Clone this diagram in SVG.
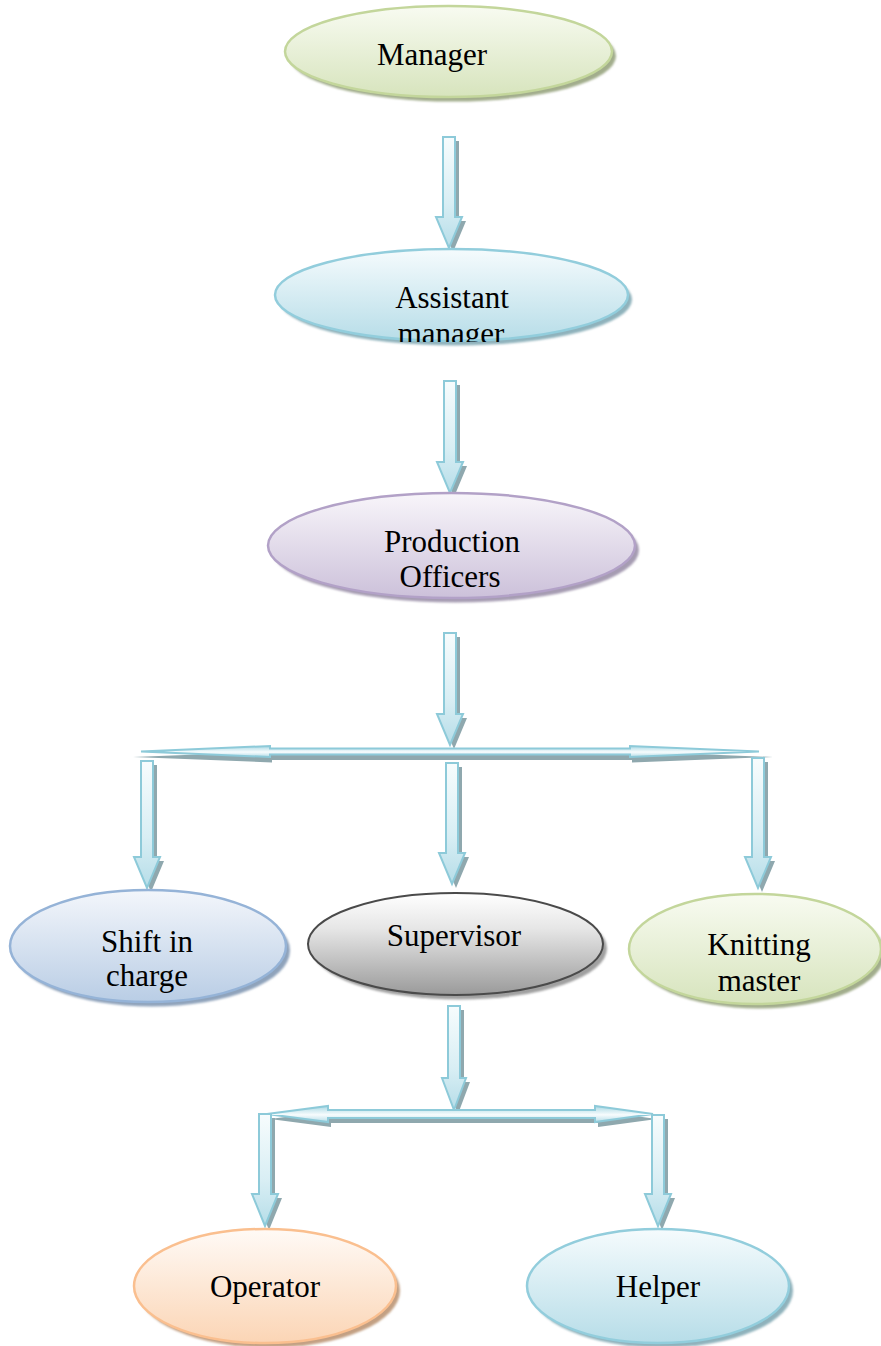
<svg xmlns="http://www.w3.org/2000/svg" width="881" height="1346" viewBox="0 0 881 1346">
<style>
  .lbl { font-family: "Liberation Serif", "Times New Roman", serif; font-size: 31px; fill: #000; text-anchor: middle; }
  .arw { fill: url(#gArrow); stroke: #8dcad9; stroke-width: 2; stroke-linejoin: miter; }
  .arwH { fill: url(#gArrowH); stroke: #8dcad9; stroke-width: 2; stroke-linejoin: miter; }
  .ash { fill: #8fa8ae; }
  .sh { filter: url(#soft); }
</style>
<defs>
  <filter id="soft" x="-10%" y="-10%" width="120%" height="120%"><feGaussianBlur stdDeviation="1.2"/></filter>
  <linearGradient id="gArrow" x1="0" y1="0" x2="0" y2="1">
    <stop offset="0" stop-color="#f7fcfd"/>
    <stop offset="0.6" stop-color="#d8eef4"/>
    <stop offset="1" stop-color="#b6dde8"/>
  </linearGradient>
  <linearGradient id="gArrowH" x1="0" y1="0" x2="0" y2="1">
    <stop offset="0" stop-color="#a9d8e4"/>
    <stop offset="0.55" stop-color="#f7fcfd"/>
    <stop offset="1" stop-color="#b6dde8"/>
  </linearGradient>
  <linearGradient id="gGreen" x1="0" y1="0" x2="0" y2="1">
    <stop offset="0" stop-color="#f8fbf1"/>
    <stop offset="1" stop-color="#d7e4bd"/>
  </linearGradient>
  <linearGradient id="gBlue" x1="0" y1="0" x2="0" y2="1">
    <stop offset="0" stop-color="#f5fbfd"/>
    <stop offset="1" stop-color="#b7dde8"/>
  </linearGradient>
  <linearGradient id="gPurple" x1="0" y1="0" x2="0" y2="1">
    <stop offset="0" stop-color="#f8f5fa"/>
    <stop offset="1" stop-color="#ccc1da"/>
  </linearGradient>
  <linearGradient id="gSteel" x1="0" y1="0" x2="0" y2="1">
    <stop offset="0" stop-color="#f3f6fb"/>
    <stop offset="1" stop-color="#b9cde5"/>
  </linearGradient>
  <linearGradient id="gGray" x1="0" y1="0" x2="0" y2="1">
    <stop offset="0" stop-color="#ffffff"/>
    <stop offset="0.35" stop-color="#e6e6e6"/>
    <stop offset="1" stop-color="#9a9a9a"/>
  </linearGradient>
  <linearGradient id="gOrange" x1="0" y1="0" x2="0" y2="1">
    <stop offset="0" stop-color="#fffaf6"/>
    <stop offset="1" stop-color="#fbd5b5"/>
  </linearGradient>
  <clipPath id="clipAsst"><rect x="270" y="240" width="370" height="102"/></clipPath>
</defs>

<g id="connectors">
  <!-- Manager -> Assistant -->
  <path class="ash" d="M447 141 H459 V221 H466 L453 252 L440 221 H447 Z"/>
  <path class="arw" d="M443 137 H455 V217 H462 L449 248 L436 217 H443 Z"/>
  <!-- Assistant -> Production -->
  <path class="ash" d="M448 385 H460 V466 H467 L454 497 L441 466 H448 Z"/>
  <path class="arw" d="M444 381 H456 V462 H463 L450 493 L437 462 H444 Z"/>
  <!-- Production -> split -->
  <path class="ash" d="M448 637 H460 V718 H467 L454 749 L441 718 H448 Z"/>
  <path class="arw" d="M444 633 H456 V714 H463 L450 745 L437 714 H444 Z"/>
  <!-- top double arrow -->
  <path class="ash" d="M133 757 L272 751.5 V754 H632 V751.5 L773 757 L632 762.5 V760 H272 V762.5 Z"/>
  <path class="arwH" d="M141 751.5 L270 746 V748.5 H630 V746 L759 751.5 L630 757 V754.5 H270 V757 Z"/>
  <!-- branch arrows -->
  <path class="ash" d="M145 765 H157 V861 H164 L151 892 L138 861 H145 Z"/>
  <path class="arw" d="M141 761 H153 V857 H160 L147 888 L134 857 H141 Z"/>
  <path class="ash" d="M450 767 H462 V857 H469 L456 888 L443 857 H450 Z"/>
  <path class="arw" d="M446 763 H458 V853 H465 L452 884 L439 853 H446 Z"/>
  <path class="ash" d="M756 762 H768 V861 H775 L762 892 L749 861 H756 Z"/>
  <path class="arw" d="M752 758 H764 V857 H771 L758 888 L745 857 H752 Z"/>
  <!-- Supervisor -> split -->
  <path class="ash" d="M452 1010 H464 V1082 H470 L458 1114 L446 1082 H452 Z"/>
  <path class="arw" d="M448 1006 H460 V1078 H466 L454 1110 L442 1078 H448 Z"/>
  <!-- bottom double arrow -->
  <path class="ash" d="M270 1119 L331 1111 V1115 H598 V1111 L657 1119 L598 1127 V1123 H331 V1127 Z"/>
  <path class="arwH" d="M267 1114 L328 1106 V1110 H595 V1106 L653 1114 L595 1122 V1118 H328 V1122 Z"/>
  <!-- bottom branches -->
  <path class="ash" d="M263 1118 H275 V1198 H282 L269 1230 L256 1198 H263 Z"/>
  <path class="arw" d="M259 1114 H271 V1194 H278 L265 1226 L252 1194 H259 Z"/>
  <path class="ash" d="M656 1119 H668 V1198 H675 L662 1230 L649 1198 H656 Z"/>
  <path class="arw" d="M652 1115 H664 V1194 H671 L658 1226 L645 1194 H652 Z"/>
</g>

<g id="manager">
  <ellipse class="sh" cx="452.5" cy="56" rx="163.5" ry="45.5" fill="#a2ad8c"/>
  <ellipse cx="448.5" cy="51.5" rx="163.5" ry="45.5" fill="url(#gGreen)" stroke="#c3d69b" stroke-width="2.5"/>
  <text class="lbl" x="432" y="65">Manager</text>
</g>

<g id="assistant-manager">
  <ellipse class="sh" cx="455.5" cy="299.5" rx="176.5" ry="46" fill="#8fb2bc"/>
  <ellipse cx="451.5" cy="295" rx="176.5" ry="46" fill="url(#gBlue)" stroke="#92cddc" stroke-width="2.5"/>
  <g clip-path="url(#clipAsst)">
    <text class="lbl" x="452" y="308">Assistant</text>
    <text class="lbl" x="451" y="344">manager</text>
  </g>
</g>

<g id="production-officers">
  <ellipse class="sh" cx="455.5" cy="550" rx="183.5" ry="52.5" fill="#a69cb2"/>
  <ellipse cx="451.5" cy="545.5" rx="183.5" ry="52.5" fill="url(#gPurple)" stroke="#b2a1c7" stroke-width="2.5"/>
  <text class="lbl" x="452" y="552">Production</text>
  <text class="lbl" x="450" y="587">Officers</text>
</g>

<g id="shift-in-charge">
  <ellipse class="sh" cx="152" cy="950.5" rx="138" ry="56" fill="#8fa3bb"/>
  <ellipse cx="148" cy="946" rx="138" ry="56" fill="url(#gSteel)" stroke="#95b3d7" stroke-width="2.5"/>
  <text class="lbl" x="147" y="952">Shift in</text>
  <text class="lbl" x="147" y="986">charge</text>
</g>

<g id="supervisor">
  <ellipse class="sh" cx="459.5" cy="948.5" rx="147.5" ry="51" fill="#a0a0a0"/>
  <ellipse cx="455.5" cy="944" rx="147.5" ry="51" fill="url(#gGray)" stroke="#4a4a4a" stroke-width="2"/>
  <text class="lbl" x="454" y="946">Supervisor</text>
</g>

<g id="knitting-master">
  <ellipse class="sh" cx="759" cy="953.5" rx="126" ry="55" fill="#a2ad8c"/>
  <ellipse cx="755" cy="949" rx="126" ry="55" fill="url(#gGreen)" stroke="#c3d69b" stroke-width="2.5"/>
  <text class="lbl" x="759" y="955">Knitting</text>
  <text class="lbl" x="759" y="991">master</text>
</g>

<g id="operator">
  <ellipse class="sh" cx="269" cy="1290.5" rx="131" ry="57" fill="#c3a083"/>
  <ellipse cx="265" cy="1286" rx="131" ry="57" fill="url(#gOrange)" stroke="#fabf8f" stroke-width="2.5"/>
  <text class="lbl" x="265" y="1297">Operator</text>
</g>

<g id="helper">
  <ellipse class="sh" cx="662" cy="1290.5" rx="131" ry="57" fill="#8fb2bc"/>
  <ellipse cx="658" cy="1286" rx="131" ry="57" fill="url(#gBlue)" stroke="#92cddc" stroke-width="2.5"/>
  <text class="lbl" x="658" y="1297">Helper</text>
</g>
</svg>
